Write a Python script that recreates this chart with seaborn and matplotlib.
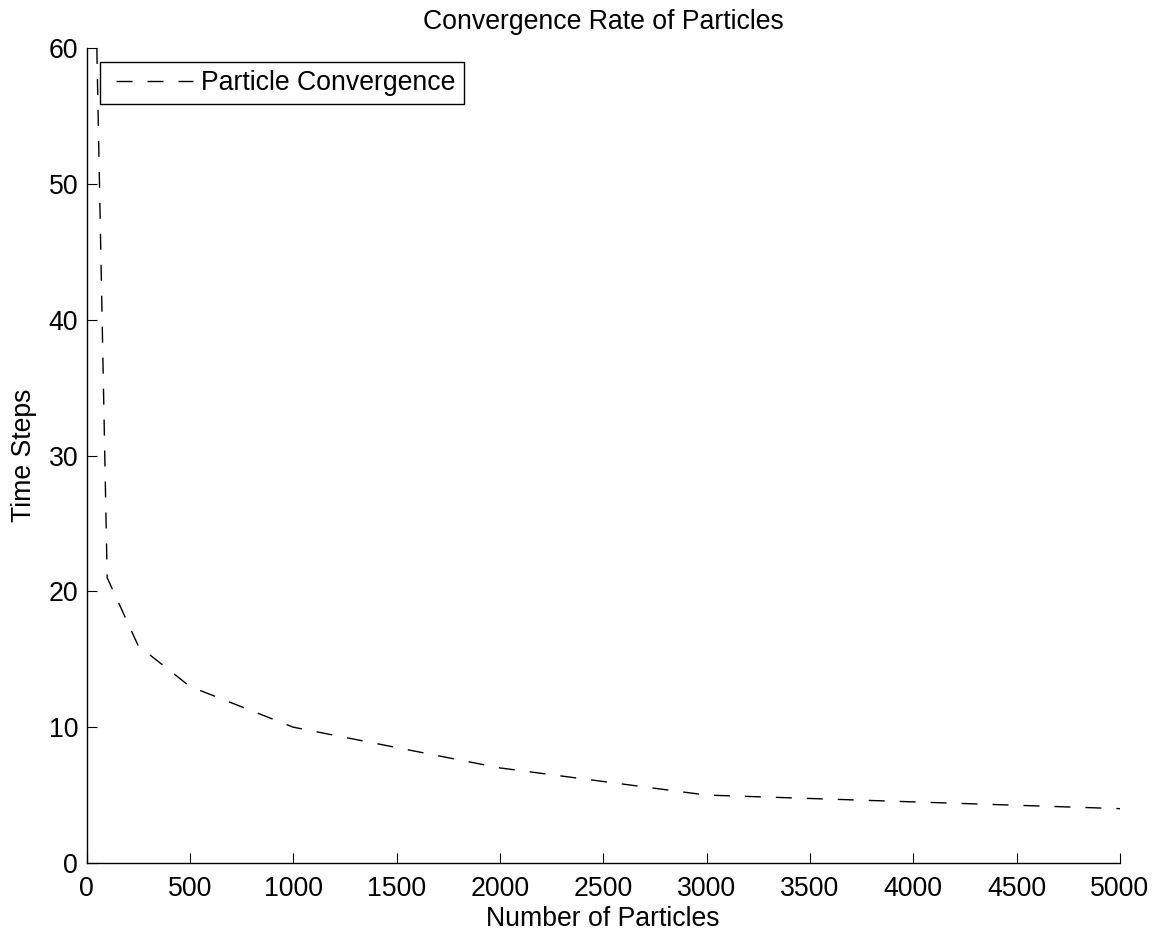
import matplotlib
matplotlib.use('Agg')
import matplotlib.pyplot as plt
from matplotlib.lines import Line2D
from matplotlib.legend_handler import HandlerLine2D
import seaborn as sns
import pandas as pd

# Data
particles = [50, 100, 250, 500, 1000, 1500, 2000, 2500, 3000, 3500, 4000, 4500, 5000]
time_steps = [60, 21, 16, 13, 10, 8.5, 7, 6, 5, 4.75, 4.5, 4.25, 4]
x_ticks = list(range(0, 5001, 500))
y_ticks = list(range(0, 61, 10))
series_label = 'Particle Convergence'

sns.set_theme(style='white')
plt.rcParams['font.family'] = ['Liberation Sans', 'DejaVu Sans']
plt.rcParams['text.color'] = 'black'
plt.rcParams['axes.labelcolor'] = 'black'

FS = 19.2
DASH = (11.5, 10.8)
W, H = 1156, 933
fig = plt.figure(figsize=(W / 100, H / 100), dpi=100)
ax = fig.add_axes([86.5 / W, 1 - 863 / H, (1120 - 86.5) / W, (863 - 48) / H])

df = pd.DataFrame({'Number of Particles': particles, 'Time Steps': time_steps})
sns.lineplot(data=df, x='Number of Particles', y='Time Steps', ax=ax,
             color='black', linewidth=1.0, linestyle=(0, DASH),
             label=series_label)

ax.set_xlim(0, 5000)
ax.set_ylim(0, 60)
ax.set_xticks(x_ticks)
ax.set_yticks(y_ticks)
ax.set_xticklabels([str(t) for t in x_ticks])
ax.set_yticklabels([str(t) for t in y_ticks])

ax.tick_params(axis='both', which='major', direction='in', length=7.2, width=0.8,
               colors='black', labelsize=FS, bottom=True, left=True, top=False, right=False)
ax.tick_params(axis='x', pad=9.2)
ax.tick_params(axis='y', pad=6)

for s in ['top', 'right']:
    ax.spines[s].set_visible(False)
for s in ['left', 'bottom']:
    ax.spines[s].set_color('black')
    ax.spines[s].set_linewidth(1.0)

ax.set_title('Convergence Rate of Particles', fontsize=FS, pad=13.5, color='black')
ax.set_xlabel('Number of Particles', fontsize=FS, labelpad=3)
ax.set_ylabel('Time Steps', fontsize=FS, labelpad=8.5)


def _legend_line(legend_handle, orig_handle):
    legend_handle.update_from(orig_handle)
    legend_handle.set_linestyle((16.5, DASH))


leg = ax.legend(loc='upper left', bbox_to_anchor=(0.013, 0.983), borderaxespad=0,
                fontsize=FS, frameon=True, fancybox=False, framealpha=1,
                edgecolor='black', handlelength=3.2, handletextpad=0.3, borderpad=0.3,
                handler_map={Line2D: HandlerLine2D(update_func=_legend_line)})
leg.get_frame().set_linewidth(1.0)

fig.savefig('out.png', dpi=100, facecolor='white')
